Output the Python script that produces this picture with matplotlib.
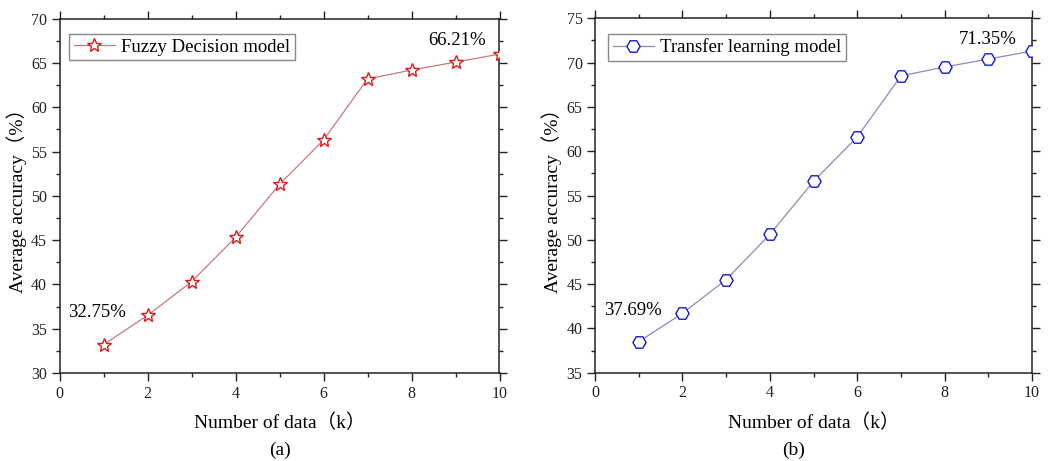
import matplotlib
matplotlib.use('Agg')
import matplotlib.pyplot as plt
from matplotlib.ticker import MultipleLocator

plt.rcParams['font.family'] = ['Liberation Serif', 'Noto Sans CJK SC']

# ─── data ────────────────────────────────────────────────────────────────────
k = [1, 2, 3, 4, 5, 6, 7, 8, 9, 10]
fuzzy_acc = [33.2, 36.5, 40.3, 45.3, 51.3, 56.3, 63.2, 64.2, 65.1, 66.0]
transfer_acc = [38.5, 41.7, 45.5, 50.6, 56.6, 61.6, 68.5, 69.5, 70.4, 71.3]

W, H = 1055, 461
fig = plt.figure(figsize=(W / 100, H / 100), dpi=100)
fig.patch.set_facecolor('white')


def px_axes(x0, x1, y0, y1):
    return fig.add_axes([x0 / W, 1 - y1 / H, (x1 - x0) / W, (y1 - y0) / H])


def style(ax, ylo, yhi):
    ax.set_xlim(0, 10)
    ax.set_ylim(ylo, yhi)
    ax.xaxis.set_major_locator(MultipleLocator(2))
    ax.xaxis.set_minor_locator(MultipleLocator(1))
    ax.yaxis.set_major_locator(MultipleLocator(5))
    ax.yaxis.set_minor_locator(MultipleLocator(2.5))
    ax.tick_params(which='both', direction='out', top=True, right=True,
                   labeltop=False, labelright=False, width=1.0, colors='#222')
    ax.tick_params(which='major', length=5.5, labelsize=11.5)
    ax.tick_params(which='minor', length=3)
    for s in ax.spines.values():
        s.set_linewidth(1.1)
        s.set_color('#222')
    ax.set_xlabel('Number of data（k）', fontsize=14, labelpad=9)
    ax.set_ylabel('Average accuracy（%）', fontsize=14, labelpad=3)


def legend(ax, x0):
    leg = ax.legend(loc='upper left', fontsize=13.5, fancybox=False, edgecolor='#888',
                    framealpha=1, borderpad=0.25, handlelength=2.2, handletextpad=0.3,
                    borderaxespad=0, bbox_to_anchor=(x0, 0.957))
    leg.get_frame().set_linewidth(1.0)


# ── (a) ──────────────────────────────────────────────────────────────────────
ax1 = px_axes(59.5, 499.5, 18.7, 373)
ax1.plot(k, fuzzy_acc, color='#c87880', linewidth=0.9, marker='*',
         markersize=10.5, markerfacecolor='white', markeredgecolor='#e01818',
         markeredgewidth=1.0, label='Fuzzy Decision model', zorder=3)
style(ax1, 30, 70)
ax1.text(0.86, 36.8, '32.75%', ha='center', va='center', fontsize=13.5)
ax1.text(9.04, 67.5, '66.21%', ha='center', va='center', fontsize=13.5)
legend(ax1, 0.022)
fig.text(279.5 / W, 1 - 450 / H, '(a)', ha='center', va='center', fontsize=14)

# ── (b) ──────────────────────────────────────────────────────────────────────
ax2 = px_axes(595, 1032, 18.3, 372.7)
ax2.plot(k, transfer_acc, color='#8a8ac0', linewidth=0.9, marker='H',
         markersize=9.5, markerfacecolor='white', markeredgecolor='#1818d0',
         markeredgewidth=1.0, label='Transfer learning model', zorder=3)
style(ax2, 35, 75)
ax2.text(0.86, 42.0, '37.69%', ha='center', va='center', fontsize=13.5)
ax2.text(8.99, 72.6, '71.35%', ha='center', va='center', fontsize=13.5)
legend(ax2, 0.03)
fig.text(794 / W, 1 - 450 / H, '(b)', ha='center', va='center', fontsize=14)

fig.savefig('out.png', dpi=100, facecolor='white')
